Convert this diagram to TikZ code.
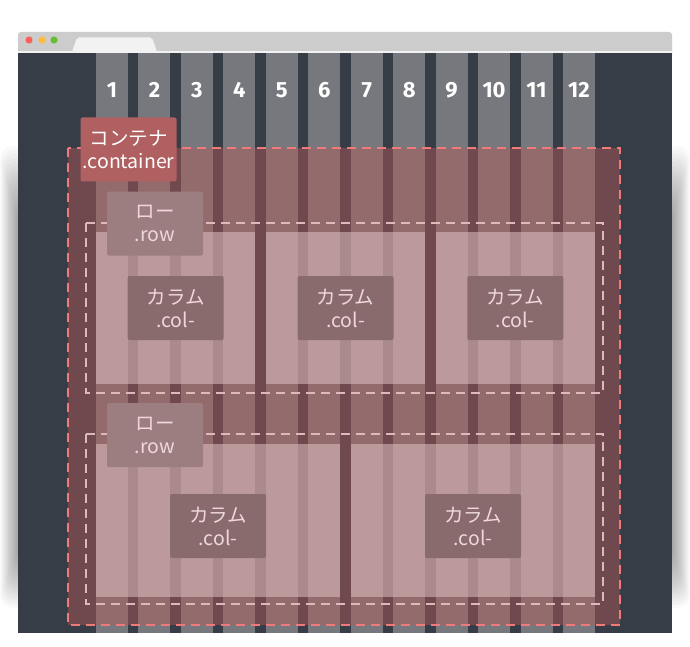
\documentclass[tikz,border=0pt]{standalone}
\usepackage{fontspec}
\setmainfont{Noto Sans CJK JP}
\newfontfamily\numfont{Fira Sans}
\usepackage{xcolor}
\usepackage{tikz}

\definecolor{screen}{RGB}{54,61,71}
\definecolor{gridcol}{RGB}{118,120,125}
\definecolor{barcol}{RGB}{204,204,204}
\definecolor{tabcol}{RGB}{242,242,242}
\definecolor{dotred}{RGB}{252,96,92}
\definecolor{dotyellow}{RGB}{253,188,64}
\definecolor{dotgreen}{RGB}{104,190,50}
\definecolor{contfill}{RGB}{190,90,88}
\definecolor{contline}{RGB}{240,122,122}
\definecolor{contlabel}{RGB}{176,96,96}
\definecolor{rowline}{RGB}{220,186,188}
\definecolor{rowlabel}{RGB}{157,126,128}
\definecolor{colfill}{RGB}{222,193,195}
\definecolor{collabel}{RGB}{138,107,109}
\definecolor{labeltext}{RGB}{238,216,218}

\tikzset{
  lbl/.style={rounded corners=2pt, minimum width=96pt, minimum height=64pt,
    inner sep=0pt, align=center, font=\fontsize{19.5}{23}\selectfont},
  contlbl/.style={lbl, fill=contlabel, text=white},
  rowlbl/.style={lbl, fill=rowlabel, text=labeltext},
  collbl/.style={lbl, fill=collabel, text=labeltext},
  contbox/.style={draw=contline, line width=2.5pt, dash pattern=on 9pt off 6pt},
  rowbox/.style={draw=rowline, line width=2.5pt, dash pattern=on 9pt off 6pt},
  num/.style={text=white, font=\numfont\bfseries\fontsize{22}{22}\selectfont}
}

\begin{document}
\begin{tikzpicture}[x=1pt,y=-1pt]
  \useasboundingbox (0,0) rectangle (690,647);
  \fill[white] (0,0) rectangle (690,647);

  % Shadow
  \foreach \s in {1,...,16}
    \fill[black, opacity=0.022, rounded corners=12pt]
      ({18-1.1*\s},{210-4*\s}) rectangle ({672+1.1*\s},{560+3*\s});

  % Browser window
  \fill[barcol, rounded corners=3pt] (18,32) rectangle (672,60);
  \fill[tabcol] (18,51) rectangle (672,53);
  \fill[tabcol, rounded corners=2pt] (72,51.5) -- (77,37.5) -- (152,37.5) -- (157,51.5) -- cycle;
  \fill[dotred] (29,40) circle (3.6pt);
  \fill[dotyellow] (42,40) circle (3.6pt);
  \fill[dotgreen] (54,40) circle (3.6pt);
  \fill[screen] (18,53) rectangle (672,633);

  % Grid columns
  \foreach \i in {1,...,12} {
    \fill[gridcol] ({96+(\i-1)*42.45},53) rectangle +(32,580);
    \node[num] (num\i) at ({112+(\i-1)*42.45},90) {\i};
  }

  % Container
  \fill[contfill, fill opacity=0.42] (68,148) rectangle (620,625);

  % Columns of row 1
  \fill[colfill, fill opacity=0.55] (96,232) rectangle (255.35,384);
  \fill[colfill, fill opacity=0.55] (265.8,232) rectangle (425.15,384);
  \fill[colfill, fill opacity=0.55] (435.6,232) rectangle (595,384);

  % Columns of row 2
  \fill[colfill, fill opacity=0.55] (96,444) rectangle (340.25,597);
  \fill[colfill, fill opacity=0.55] (350.7,444) rectangle (595,597);

  % Dashed outlines
  \draw[contbox] (68,148) rectangle (620,625);
  \draw[rowbox] (86,223) rectangle (603,393);
  \draw[rowbox] (86,434) rectangle (603,604);

  % Labels
  \node[contlbl] (conttag) at (128.5,149.5) {コンテナ\\.container};
  \node[rowlbl] (rowtag1) at (155,223.5) {ロー\\.row};
  \node[rowlbl] (rowtag2) at (155,435) {ロー\\.row};
  \node[collbl] (coltag11) at (175.7,308) {カラム\\.col-};
  \node[collbl] (coltag12) at (345.5,308) {カラム\\.col-};
  \node[collbl] (coltag13) at (515.3,308) {カラム\\.col-};
  \node[collbl] (coltag21) at (218,526) {カラム\\.col-};
  \node[collbl] (coltag22) at (473,526) {カラム\\.col-};
\end{tikzpicture}
\end{document}
